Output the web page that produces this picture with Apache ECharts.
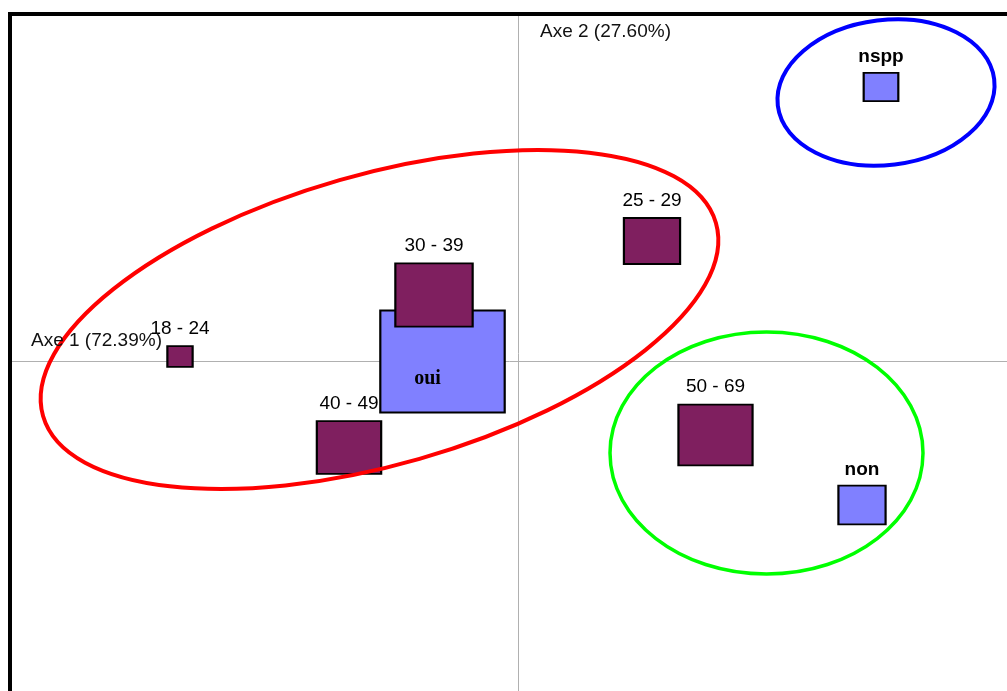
<!DOCTYPE html>
<html>
<head>
<meta charset="utf-8">
<script src="https://cdn.jsdelivr.net/npm/echarts@6/dist/echarts.min.js"></script>
<style>
html,body{margin:0;padding:0;background:#fff;}
#chart{width:1007px;height:691px;}
</style>
</head>
<body>
<div id="chart"></div>
<script>
// ---- Data (correspondence analysis coordinates) ----
const axisTitles = ['Axe 1 (72.39%)', 'Axe 2 (27.60%)'];

const ageCategories = ['18 - 24', '25 - 29', '30 - 39', '40 - 49', '50 - 69'];
const ageAxe1 = [-0.677, 0.267, -0.169, -0.339, 0.394];
const ageAxe2 = [0.010, 0.241, 0.133, -0.172, -0.147];
const ageMass = [3.3, 16.3, 30.9, 21.4, 28.4];

const answerCategories = ['oui', 'non', 'nspp'];
const answerAxe1 = [-0.152, 0.687, 0.725];
const answerAxe2 = [0.000, -0.287, 0.549];
const answerMass = [80.0, 11.5, 6.2];

// groups drawn as ellipses: centre (axe1, axe2), semi-axes, tilt (deg)
const groupNames = ['groupe A', 'groupe B', 'groupe C'];
const groupCx = [-0.278, 0.735, 0.496];
const groupCy = [0.084, 0.538, -0.183];
const groupA = [0.700, 0.218, 0.313];
const groupB = [0.290, 0.145, 0.242];
const groupAngle = [16, 7, 0];

// ---- Build ----
const SANS = 'Liberation Sans, Arial, sans-serif';
const SERIF = 'Liberation Serif, Times New Roman, serif';
const sizeOf = (v) => { const h = 11.4 * Math.sqrt(v[2]); return [h * 1.22, h]; };

const ageData = ageCategories.map((n, i) => ({ name: n, value: [ageAxe1[i], ageAxe2[i], ageMass[i]] }));
const answerData = answerCategories.map((n, i) => {
  const item = { name: n, value: [answerAxe1[i], answerAxe2[i], answerMass[i]] };
  if (n === 'oui') {
    item.label = { position: 'inside', offset: [-15, 17], fontFamily: SERIF, fontWeight: 'bold', fontSize: 20 };
  }
  return item;
});
const ellipseData = groupNames.map((n, i) => ({ name: n, value: [groupCx[i], groupCy[i], groupA[i], groupB[i], groupAngle[i]] }));
const ellipseColors = ['#ff0000', '#0000ff', '#00ff00'];
const ellipseWidths = [4, 4, 3.5];

const axisLine = { onZero: true, lineStyle: { color: '#b0b0b0', width: 1 } };

const chart = echarts.init(document.getElementById('chart'), null, { renderer: 'canvas' });
chart.setOption({
  animation: false,
  backgroundColor: '#ffffff',
  grid: { left: 12, right: 0, top: 16, bottom: 0 },
  xAxis: {
    type: 'value', min: -1.013, max: 0.977,
    axisLine: axisLine, axisTick: { show: false }, axisLabel: { show: false }, splitLine: { show: false }
  },
  yAxis: {
    type: 'value', min: -0.659, max: 0.691,
    axisLine: axisLine, axisTick: { show: false }, axisLabel: { show: false }, splitLine: { show: false }
  },
  series: [
    {
      type: 'scatter', name: 'reponse', data: answerData,
      symbol: 'rect', symbolSize: sizeOf,
      itemStyle: { color: '#8080ff', borderColor: '#000', borderWidth: 2, opacity: 1 },
      label: { show: true, position: 'top', distance: 5.5, formatter: '{b}', color: '#000',
               fontFamily: SANS, fontWeight: 'bold', fontSize: 19 },
      emphasis: { disabled: true }, z: 2
    },
    {
      type: 'scatter', name: 'age', data: ageData,
      symbol: 'rect', symbolSize: sizeOf,
      itemStyle: { color: '#7f1f5f', borderColor: '#000', borderWidth: 2, opacity: 1 },
      label: { show: true, position: 'top', distance: 7, formatter: '{b}', color: '#000',
               fontFamily: SANS, fontSize: 19 },
      emphasis: { disabled: true }, z: 3
    },
    {
      type: 'custom', name: 'groupes', data: ellipseData, z: 4, silent: true,
      renderItem: function (params, api) {
        const c = api.coord([api.value(0), api.value(1)]);
        const s = api.size([api.value(2), api.value(3)]);
        const i = params.dataIndex;
        return {
          type: 'ellipse',
          x: c[0], y: c[1],
          rotation: api.value(4) * Math.PI / 180,
          shape: { cx: 0, cy: 0, rx: s[0], ry: s[1] },
          style: { fill: 'none', stroke: ellipseColors[i], lineWidth: ellipseWidths[i] }
        };
      }
    }
  ],
  graphic: [
    { type: 'rect', shape: { x: 10, y: 14, width: 1200, height: 900 },
      style: { fill: 'none', stroke: '#000', lineWidth: 4 }, z: 100 },
    { type: 'text', x: 31, y: 341, z: 100,
      style: { text: axisTitles[0], fontFamily: SANS, fontSize: 19, fill: '#111', verticalAlign: 'middle', align: 'left' } },
    { type: 'text', x: 540, y: 32, z: 100,
      style: { text: axisTitles[1], fontFamily: SANS, fontSize: 19, fill: '#111', verticalAlign: 'middle', align: 'left' } }
  ]
});
</script>
</body>
</html>
